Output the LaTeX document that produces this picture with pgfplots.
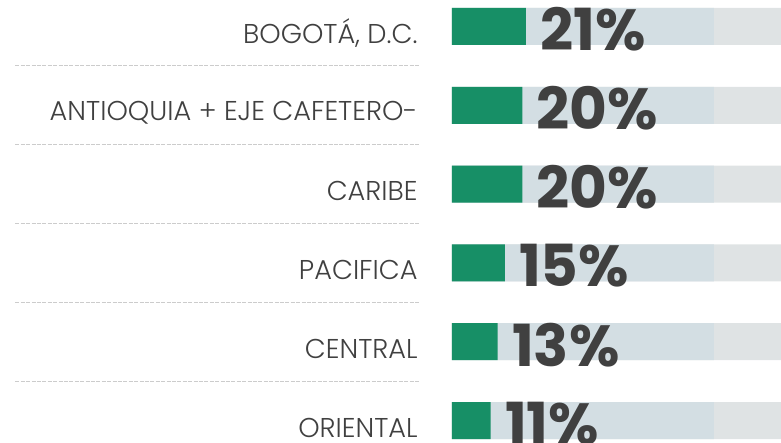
\documentclass[border=0pt]{standalone}
\usepackage{pgfplots}
\usepackage{pgfplotstable}
\pgfplotsset{compat=1.18}
\usepackage{fontspec}
\setmainfont{Poppins}
\IfFontExistsTF{Poppins Light}{\newfontfamily\lightfont{Poppins Light}}{\newfontfamily\lightfont{Poppins}}

\definecolor{barGreen}{HTML}{178F66}
\definecolor{trackBlue}{HTML}{D3DEE3}
\definecolor{trackGrey}{HTML}{DFE3E4}
\definecolor{txtGrey}{HTML}{404040}
\definecolor{sepGrey}{HTML}{CCCCCC}

\pgfplotstableread{
y val
0 21
1 20
2 20
3 15
4 13
5 11
}\shares

\pgfplotstableread{
y full part
0 93.5 74.4
1 93.5 74.4
2 93.5 74.4
3 93.5 74.4
4 93.5 74.4
5 93.5 74.4
}\track

\begin{document}
\begin{tikzpicture}
\begin{axis}[
    scale only axis,
    width=164.5pt, height=221.5pt,
    xmin=0, xmax=93.5,
    ymin=-0.336, ymax=5.285,
    y dir=reverse,
    axis line style={draw=none},
    xtick=\empty,
    ytick={0,1,2,3,4,5},
    yticklabels={{BOGOTÁ, D.C.}, ANTIOQUIA + EJE CAFETERO-, CARIBE, PACIFICA, CENTRAL, ORIENTAL},
    major tick length=0pt,
    yticklabel style={anchor=east, inner sep=0pt, xshift=-17pt, yshift=-3.5pt,
        font=\lightfont\fontsize{13.6}{15}\selectfont, text=txtGrey},
    xbar, bar width=18.5pt, bar shift=0pt,
    clip=false,
    /pgf/number format/assume math mode=true,
]
% separators
\foreach \s in {0.5,1.5,2.5,3.5,4.5}{
  \edef\tmp{\noexpand\draw[sepGrey, line width=0.6pt, dash pattern=on 2pt off 0.7pt]
    (axis cs:-124.1,\s) -- (axis cs:-9.3,\s);}
  \tmp
}
\addplot[draw=none, fill=trackGrey] table[x=full, y=y] {\track};
\addplot[draw=none, fill=trackBlue] table[x=part, y=y] {\track};
\addplot[draw=none, fill=barGreen,
    point meta=x,
    nodes near coords={\pgfmathprintnumber{\pgfplotspointmeta}\%},
    every node near coord/.style={anchor=west, inner sep=0pt, xshift=7pt, yshift=-1.5pt,
        font=\fontsize{29}{29}\selectfont\bfseries, text=txtGrey},
] table[x=val, y=y] {\shares};
\end{axis}
\pgfresetboundingbox
\path (-226pt,0pt) rectangle (164.5pt,221.5pt);
\end{tikzpicture}
\end{document}
